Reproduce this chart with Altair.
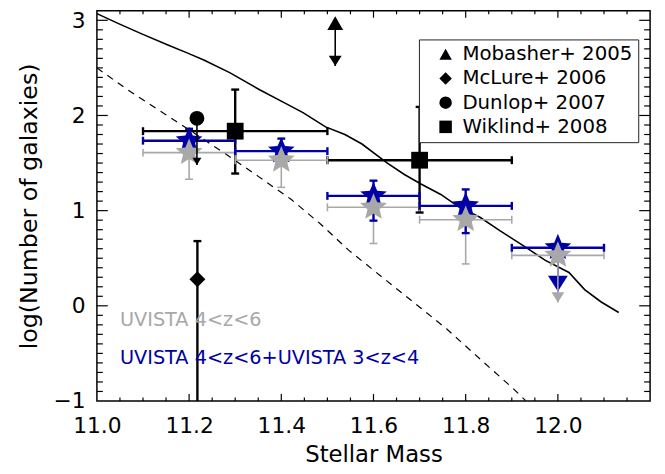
import altair as alt
import pandas as pd
import numpy as np

FONT = "DejaVu Sans"
W, H = 560, 395
GRAY = "#a8a8a8"
BLUE = "#0000a5"

# ---------------- data ----------------
model_x = [11.0, 11.047, 11.096, 11.154, 11.197, 11.233, 11.288, 11.353, 11.404, 11.447, 11.496,
           11.538, 11.575, 11.63, 11.667, 11.703, 11.746, 11.788, 11.831, 11.874, 11.929, 11.972,
           12.024, 12.058, 12.094, 12.132]
model_y = [3.07, 2.965, 2.86, 2.74, 2.655, 2.58, 2.45, 2.27, 2.14, 2.03, 1.88,
           1.80, 1.70, 1.50, 1.38, 1.28, 1.17, 1.03, 0.93, 0.79, 0.62, 0.48,
           0.35, 0.17, 0.04, -0.07]

dash_x = [11.0, 11.065, 11.136, 11.207, 11.278, 11.35, 11.421, 11.485, 11.546, 11.617, 11.688,
          11.759, 11.83, 11.902, 11.93]
dash_y = [2.50, 2.275, 2.05, 1.827, 1.60, 1.36, 1.12, 0.86, 0.585, 0.308, 0.033,
          -0.244, -0.554, -0.865, -0.996]

uv_x = [11.2, 11.4, 11.6, 11.8, 12.0]
uv_xlo = [11.1, 11.3, 11.5, 11.7, 11.9]
uv_xhi = [11.3, 11.5, 11.7, 11.9, 12.1]

gray_y = [1.61, 1.53, 1.035, 0.905, 0.53]
gray_ylo = [1.33, 1.245, 0.655, 0.44]
gray_yhi = [1.76, 1.68, 1.17, 1.04]
gray_lim = [0.035]

blue_y = [1.735, 1.625, 1.155, 1.05, 0.61]
blue_ylo = [1.60, 1.52, 0.895, 0.764]
blue_yhi = [1.86, 1.757, 1.315, 1.223]
blue_lim = [0.15]

refs = ["Mobasher+ 2005", "McLure+ 2006", "Dunlop+ 2007", "Wiklind+ 2008"]
ref_shapes = ["triangle-up", "diamond", "circle", "square"]

mob_x, mob_y, mob_lim = [11.517], [2.97], [2.52]
mcl_x, mcl_y, mcl_ylo, mcl_yhi = [11.218], [0.28], [-1.3], [0.68]
dun_x, dun_y, dun_lim = [11.217], [1.97], [1.48]
wik_x = [11.3, 11.7]
wik_y = [1.835, 1.53]
wik_xlo = [11.1, 11.5]
wik_xhi = [11.5, 11.9]
wik_ylo = [1.39, 0.98]
wik_yhi = [2.272, 2.09]

notes = ["UVISTA 4<z<6", "UVISTA 4<z<6+UVISTA 3<z<4"]
notes_x = [11.05, 11.05]
notes_y = [-0.15, -0.545]
notes_c = [GRAY, BLUE]

x_labels = [11.0, 11.2, 11.4, 11.6, 11.8, 12.0]
x_major = [11.2, 11.4, 11.6, 11.8, 12.0]
x_minor = [round(11.0 + 0.05 * i, 2) for i in range(1, 24) if i % 4 != 0]
y_labels = [-1, 0, 1, 2, 3]
y_major = [0, 1, 2, 3]
y_minor = [round(-1 + 0.1 * i, 1) for i in range(1, 41) if i % 10 != 0]

# ---------------- helpers ----------------
xs = alt.Scale(domain=[11.0, 12.2], nice=False, zero=False)
ys = alt.Scale(domain=[-1.0, 3.1], nice=False, zero=False)

AXX = alt.Axis(values=x_labels, format=".1f", title="Stellar Mass", grid=False, ticks=False,
               domain=False, labelFont=FONT, labelFontSize=22, labelPadding=15, labelColor="black",
               labelFlush=False, labelOverlap=False, titleFont=FONT, titleFontSize=23,
               titleFontWeight="normal", titleColor="black", titlePadding=7)
AXY = alt.Axis(values=y_labels, format="d", title="log(Number of galaxies)", grid=False, ticks=False,
               domain=False, labelFont=FONT, labelFontSize=22, labelPadding=12, labelColor="black",
               labelFlush=False, labelOverlap=False, titleFont=FONT, titleFontSize=24,
               titleFontWeight="normal", titleColor="black", titlePadding=12)


def xq(f):
    return alt.X(f"{f}:Q", scale=xs, axis=AXX)


def yq(f):
    return alt.Y(f"{f}:Q", scale=ys, axis=AXY)


star_pts = []
for k in range(10):
    r = 1.0 if k % 2 == 0 else 0.45
    a = -np.pi / 2 + k * np.pi / 5
    star_pts.append(f"{r*np.cos(a):.3f},{r*np.sin(a):.3f}")
STAR = "M" + "L".join(star_pts) + "Z"
ARROW = "M0,0L-1,-1.6L1,-1.6Z"

legend = alt.Legend(title=None, orient="none", legendX=326, legendY=29, labelFont=FONT,
                    labelFontSize=20, labelColor="black", symbolSize=160, symbolFillColor="black",
                    symbolStrokeColor="black", symbolStrokeWidth=0, strokeColor="#222222",
                    fillColor="white", padding=5, rowPadding=4.5, symbolOffset=12, labelOffset=7,
                    labelLimit=400)
shape_scale = alt.Scale(domain=refs, range=ref_shapes)

layers = []

# model curves
layers.append(alt.Chart(pd.DataFrame({"x": model_x, "y": model_y})).mark_line(
    color="black", strokeWidth=1.6, clip=True).encode(x=xq("x"), y=yq("y")))
layers.append(alt.Chart(pd.DataFrame({"x": dash_x, "y": dash_y})).mark_line(
    color="black", strokeWidth=1.2, strokeDash=[7, 6], clip=True).encode(x=xq("x"), y=yq("y")))


def errbars(xc, yc, xlo, xhi, ylo, yhi, color, sw, cap=8):
    out = []
    hb = pd.DataFrame({"y": yc[:len(xlo)], "xlo": xlo, "xhi": xhi})
    out.append(alt.Chart(hb).mark_rule(color=color, strokeWidth=sw, clip=True).encode(
        x=xq("xlo"), x2="xhi", y=yq("y")))
    hc = pd.DataFrame({"cx": list(xlo) + list(xhi), "cy": list(yc[:len(xlo)]) * 2})
    out.append(alt.Chart(hc).mark_tick(orient="vertical", size=cap, thickness=sw, color=color,
                                       opacity=1).encode(x=xq("cx"), y=yq("cy")))
    if ylo:
        n = len(ylo)
        vb = pd.DataFrame({"x": xc[:n], "ylo": ylo, "yhi": yhi})
        out.append(alt.Chart(vb).mark_rule(color=color, strokeWidth=sw, clip=True).encode(
            x=xq("x"), y=yq("ylo"), y2="yhi"))
        vc = pd.DataFrame({"cx": list(xc[:n]) * 2, "cy": list(ylo) + list(yhi)})
        vc = vc[vc["cy"] > -1]
        out.append(alt.Chart(vc).mark_tick(orient="horizontal", size=cap, thickness=sw, color=color,
                                           opacity=1).encode(x=xq("cx"), y=yq("cy")))
    return out


def arrow(xc, y0, y1, color, sw, size):
    d = pd.DataFrame({"x": xc, "y0": y0, "y1": y1})
    return [
        alt.Chart(d).mark_rule(color=color, strokeWidth=sw).encode(x=xq("x"), y=yq("y0"), y2="y1"),
        alt.Chart(d).mark_point(shape=ARROW, size=size, filled=True, color=color, opacity=1,
                                strokeWidth=0).encode(x=xq("x"), y=yq("y1")),
    ]


# black Wiklind error bars (below coloured ones)
layers += errbars(wik_x, wik_y, wik_xlo, wik_xhi, wik_ylo, wik_yhi, "black", 2.4)
# McLure vertical error bar
mcl_df = pd.DataFrame({"x": mcl_x, "ylo": mcl_ylo, "yhi": mcl_yhi})
layers.append(alt.Chart(mcl_df).mark_rule(color="black", strokeWidth=2.4, clip=True).encode(
    x=xq("x"), y=yq("ylo"), y2="yhi"))
layers.append(alt.Chart(pd.DataFrame({"cx": mcl_x, "cy": mcl_yhi})).mark_tick(
    orient="horizontal", size=8, thickness=2.4, color="black", opacity=1).encode(
    x=xq("cx"), y=yq("cy")))

# UVISTA gray / blue
layers += errbars(uv_x, gray_y, uv_xlo, uv_xhi, gray_ylo, gray_yhi, GRAY, 1.6)
layers += errbars(uv_x, blue_y, uv_xlo, uv_xhi, blue_ylo, blue_yhi, BLUE, 2.4)
layers += arrow(uv_x[4:], blue_y[4:], blue_lim, BLUE, 1.6, 400)
layers += arrow(uv_x[4:], gray_y[4:], gray_lim, GRAY, 1.6, 169)
layers.append(alt.Chart(pd.DataFrame({"x": uv_x, "y": blue_y})).mark_point(
    shape=STAR, size=800, filled=True, color=BLUE, opacity=1, strokeWidth=0).encode(
    x=xq("x"), y=yq("y")))
layers.append(alt.Chart(pd.DataFrame({"x": uv_x, "y": gray_y})).mark_point(
    shape=STAR, size=820, filled=True, color=GRAY, opacity=1, strokeWidth=0).encode(
    x=xq("x"), y=yq("y")))

# black arrows (upper limits)
layers += arrow(mob_x, mob_y, mob_lim, "black", 1.6, 169)
layers += arrow(dun_x, dun_y, dun_lim, "black", 1.6, 81)


def markers(xv, yv, ref, size):
    d = pd.DataFrame({"x": xv, "y": yv, "ref": [ref] * len(xv)})
    return alt.Chart(d).mark_point(size=size, filled=True, color="black", opacity=1,
                                   strokeWidth=0).encode(
        x=xq("x"), y=yq("y"), shape=alt.Shape("ref:N", scale=shape_scale, legend=legend))


layers.append(markers(mob_x, mob_y, refs[0], 256))
layers.append(markers(mcl_x, mcl_y, refs[1], 260))
layers.append(markers(dun_x, dun_y, refs[2], 227))
layers.append(markers(wik_x, wik_y, refs[3], 289))

# annotations
ndf = pd.DataFrame({"x": notes_x, "y": notes_y, "t": notes, "c": notes_c})
layers.append(alt.Chart(ndf).mark_text(align="left", baseline="middle", font=FONT,
                                       fontSize=19.5).encode(
    x=xq("x"), y=yq("y"), text="t:N", color=alt.Color("c:N", scale=None)))


# frame ticks (inward)
def xticks(vals, ln):
    d = pd.DataFrame({"v": vals})
    return [
        alt.Chart(d).mark_rule(color="black", strokeWidth=1.2).encode(
            x=xq("v"), y=alt.value(H), y2=alt.value(H - ln)),
        alt.Chart(d).mark_rule(color="black", strokeWidth=1.2).encode(
            x=xq("v"), y=alt.value(0), y2=alt.value(ln)),
    ]


def yticks(vals, ln):
    d = pd.DataFrame({"v": vals})
    return [
        alt.Chart(d).mark_rule(color="black", strokeWidth=1.2).encode(
            y=yq("v"), x=alt.value(0), x2=alt.value(ln)),
        alt.Chart(d).mark_rule(color="black", strokeWidth=1.2).encode(
            y=yq("v"), x=alt.value(W), x2=alt.value(W - ln)),
    ]


layers += xticks(x_major, 7) + xticks(x_minor, 3.5) + yticks(y_major, 11) + yticks(y_minor, 6)

chart = alt.layer(*layers).properties(
    width=W, height=H,
    autosize=alt.AutoSizeParams(type="none"),
    padding={"left": 90, "top": 0, "right": 7, "bottom": 63},
    background="white",
).configure_view(stroke="black", strokeWidth=1.5)

chart.save("out.html", embed_options={"renderer": "svg", "actions": False})
